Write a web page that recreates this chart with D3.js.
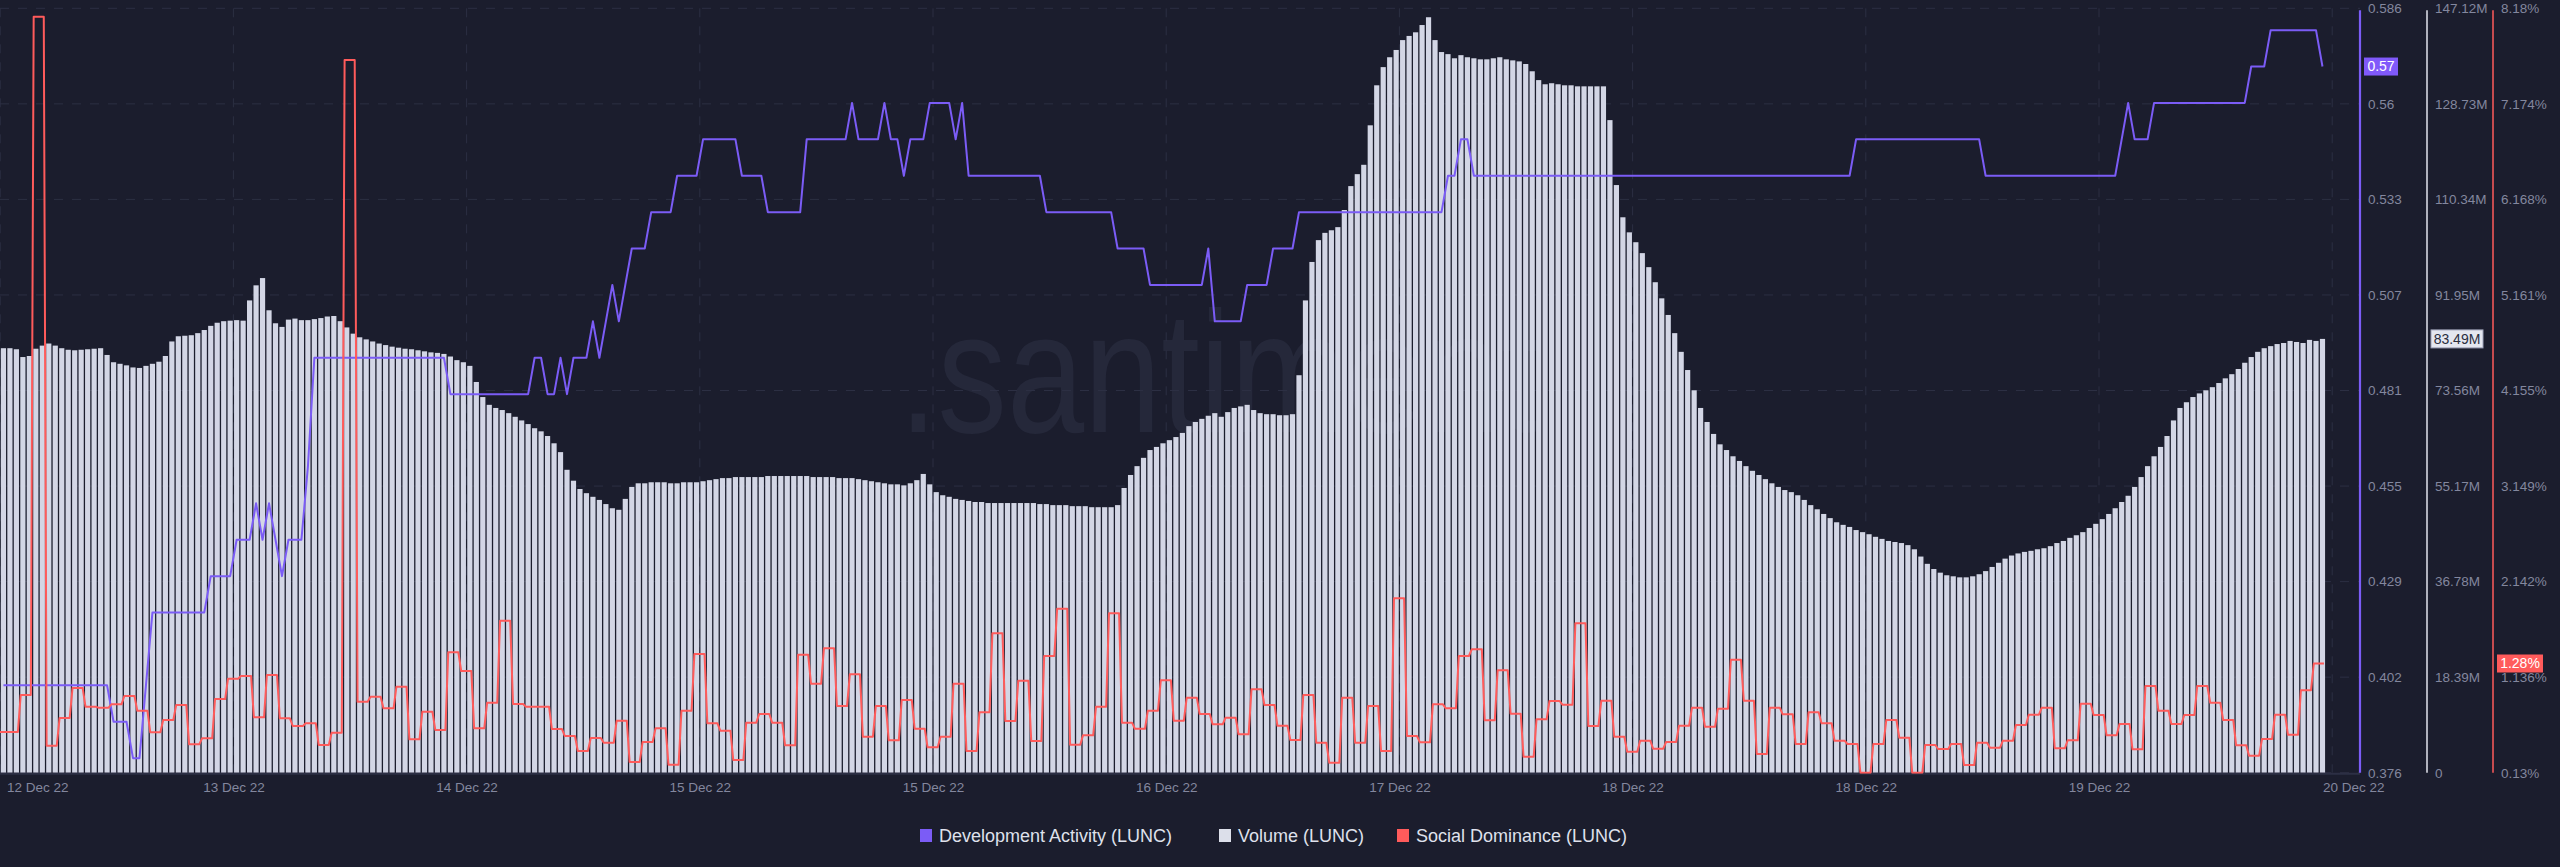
<!DOCTYPE html>
<html><head><meta charset="utf-8">
<script src="https://cdn.jsdelivr.net/npm/d3@7"></script>
<style>
html,body{margin:0;padding:0;background:#1b1d2d;overflow:hidden;}
svg{display:block;}
text{font-family:"Liberation Sans",Arial,sans-serif;}
</style></head><body>
<svg id="chart" width="2560" height="867"></svg>
<script>
// ---------------- DATA ----------------
const HOUR = 3600e3;
const xTickStart = "2022-12-12T18:00:00Z";
const xTickStepHours = 18;
const xTickLabels = ["12 Dec 22","13 Dec 22","14 Dec 22","15 Dec 22","15 Dec 22","16 Dec 22","17 Dec 22","18 Dec 22","18 Dec 22","19 Dec 22","20 Dec 22"];

// Volume (LUNC), millions, 30-minute bars
const volumeStart = "2022-12-12T18:15:00Z";
const volume = [
81.7,81.7,81.5,80.0,80.2,81.6,82.2,82.6,82.2,81.7,
81.4,81.3,81.4,81.5,81.6,81.7,80.4,79.0,78.7,78.4,
78.0,77.9,78.3,78.7,79.1,80.2,83.0,84.0,84.1,84.2,
84.6,85.2,86.0,86.6,86.9,87.0,87.1,87.0,90.9,93.8,
95.2,89.0,86.5,85.8,87.2,87.4,87.1,87.1,87.3,87.5,
87.8,87.9,86.9,85.7,84.5,83.8,83.4,83.0,82.6,82.3,
82.0,81.8,81.6,81.5,81.3,81.1,80.9,80.8,80.6,80.1,
79.4,79.0,78.3,75.2,72.3,70.8,70.2,69.8,69.2,68.5,
67.8,67.1,66.3,65.7,64.8,63.4,61.7,58.3,56.2,54.6,
53.8,53.1,52.5,51.7,50.9,50.6,52.7,55.0,55.7,55.7,
55.9,55.9,55.9,55.7,55.7,55.9,55.9,55.9,56.1,56.3,
56.5,56.7,56.7,56.9,56.9,56.9,56.9,56.9,57.1,57.1,
57.1,57.1,57.1,57.1,57.1,56.9,56.9,56.9,56.9,56.7,
56.7,56.7,56.5,56.3,56.1,55.9,55.7,55.5,55.5,55.3,
55.7,56.3,57.5,55.5,54.0,53.4,53.1,52.7,52.5,52.3,
52.1,52.1,51.9,51.9,51.9,51.9,51.9,51.9,51.9,51.9,
51.7,51.7,51.5,51.5,51.5,51.3,51.3,51.3,51.1,51.1,
51.1,51.1,51.5,54.8,57.3,59.0,60.6,62.1,62.7,63.4,
64.0,64.6,65.4,66.7,67.5,68.1,68.7,69.2,68.5,69.4,
70.2,70.5,70.8,69.8,69.2,69.0,69.0,68.8,68.8,69.0,
76.5,90.9,98.3,102.5,103.9,104.4,105.0,108.3,112.9,115.2,
117.0,124.6,132.3,135.8,137.7,139.1,141.0,141.8,142.5,143.9,
145.4,141.0,138.7,138.3,137.5,138.1,137.7,137.5,137.3,137.3,
137.5,137.7,137.3,137.1,136.9,136.4,135.0,133.3,132.5,132.7,
132.5,132.3,132.3,132.1,132.1,132.1,132.1,132.1,125.6,113.1,
106.9,104.0,102.1,100.0,97.3,94.4,91.3,88.1,84.6,81.0,
77.5,73.6,70.2,67.5,65.2,63.2,62.1,60.9,60.0,59.0,
58.1,57.3,56.5,55.7,55.0,54.4,54.0,53.4,52.5,51.5,
50.7,49.8,49.0,48.2,47.7,47.3,46.7,46.3,45.9,45.4,
45.0,44.6,44.4,44.2,43.8,43.0,41.6,40.2,39.2,38.5,
38.0,37.8,37.6,37.6,37.8,38.2,38.8,39.6,40.4,41.2,
41.8,42.2,42.5,42.7,43.0,43.2,43.6,44.2,44.6,45.2,
45.7,46.3,47.1,47.9,48.8,49.8,50.9,52.1,53.3,55.0,
56.9,59.0,60.9,62.7,64.8,67.8,70.2,71.3,72.3,73.0,
73.6,74.2,75.0,75.9,76.7,77.7,78.9,80.0,81.0,81.7,
82.1,82.5,82.7,83.1,82.9,82.7,83.3,83.1,83.49
];

// Development Activity (LUNC), 30-minute points
const devStart = "2022-12-12T18:15:00Z";
const devActivity = [
0.40,0.40,0.40,0.40,0.40,0.40,0.40,0.40,0.40,0.40,0.40,0.40,0.40,0.40,0.40,0.40,0.40,
0.39,0.39,0.39,0.38,0.38,0.40,
0.42,0.42,0.42,0.42,0.42,0.42,0.42,0.42,0.42,
0.43,0.43,0.43,0.43,0.44,0.44,0.44,
0.45,0.44,0.45,0.44,0.43,0.44,0.44,0.44,0.46,
0.49,0.49,0.49,0.49,0.49,0.49,0.49,0.49,0.49,0.49,0.49,0.49,0.49,0.49,0.49,0.49,0.49,0.49,0.49,0.49,0.49,
0.48,0.48,0.48,0.48,0.48,0.48,0.48,0.48,0.48,0.48,0.48,0.48,0.48,
0.49,0.49,0.48,0.48,0.49,0.48,0.49,0.49,0.49,0.50,0.49,0.50,0.51,0.50,0.51,0.52,0.52,0.52,
0.53,0.53,0.53,0.53,0.54,0.54,0.54,0.54,
0.55,0.55,0.55,0.55,0.55,0.55,0.54,0.54,0.54,0.54,
0.53,0.53,0.53,0.53,0.53,0.53,
0.55,0.55,0.55,0.55,0.55,0.55,0.55,
0.56,0.55,0.55,0.55,0.55,0.56,0.55,0.55,0.54,0.55,0.55,0.55,0.56,0.56,0.56,0.56,0.55,0.56,
0.54,0.54,0.54,0.54,0.54,0.54,0.54,0.54,0.54,0.54,0.54,0.54,
0.53,0.53,0.53,0.53,0.53,0.53,0.53,0.53,0.53,0.53,0.53,
0.52,0.52,0.52,0.52,0.52,
0.51,0.51,0.51,0.51,0.51,0.51,0.51,0.51,0.51,0.52,
0.50,0.50,0.50,0.50,0.50,0.51,0.51,0.51,0.51,0.52,0.52,0.52,0.52,
0.53,0.53,0.53,0.53,0.53,0.53,0.53,0.53,0.53,0.53,0.53,0.53,0.53,0.53,0.53,0.53,0.53,0.53,0.53,0.53,0.53,0.53,0.53,
0.54,0.54,0.55,0.55,
0.54,0.54,0.54,0.54,0.54,0.54,0.54,0.54,0.54,0.54,0.54,0.54,0.54,0.54,0.54,0.54,0.54,0.54,0.54,0.54,
0.54,0.54,0.54,0.54,0.54,0.54,0.54,0.54,0.54,0.54,0.54,0.54,0.54,0.54,0.54,0.54,0.54,0.54,0.54,0.54,
0.54,0.54,0.54,0.54,0.54,0.54,0.54,0.54,0.54,0.54,0.54,0.54,0.54,0.54,0.54,0.54,0.54,0.54,0.54,
0.55,0.55,0.55,0.55,0.55,0.55,0.55,0.55,0.55,0.55,0.55,0.55,0.55,0.55,0.55,0.55,0.55,0.55,0.55,0.55,
0.54,0.54,0.54,0.54,0.54,0.54,0.54,0.54,0.54,0.54,0.54,0.54,0.54,0.54,0.54,0.54,0.54,0.54,0.54,0.54,0.54,
0.55,0.56,0.55,0.55,0.55,
0.56,0.56,0.56,0.56,0.56,0.56,0.56,0.56,0.56,0.56,0.56,0.56,0.56,0.56,0.56,
0.57,0.57,0.57,0.58,0.58,0.58,0.58,0.58,0.58,0.58,0.58,0.57
];

// Social Dominance (LUNC), %, hourly
const socialStart = "2022-12-12T17:35:00Z";
const socialDominance = [
0.559,0.559,0.949,8.09,0.414,0.706,1.022,0.825,0.815,0.85,
0.938,0.783,0.555,0.685,0.843,0.429,0.492,0.906,1.12,1.148,
0.713,1.159,0.703,0.622,0.65,0.422,0.551,7.635,0.878,0.93,
0.808,1.036,0.481,0.772,0.58,1.398,1.201,0.597,0.867,1.731,
0.853,0.825,0.825,0.59,0.516,0.358,0.495,0.446,0.678,0.243,
0.453,0.597,0.214,0.783,1.38,0.65,0.572,0.264,0.657,0.748,
0.657,0.418,1.373,1.067,1.44,0.832,1.166,0.509,0.832,0.471,
0.896,0.593,0.397,0.509,1.067,0.358,0.766,1.598,0.674,1.099,
0.464,1.359,1.857,0.425,0.524,0.825,1.809,0.657,0.593,0.783,
1.103,0.678,0.92,0.748,0.64,0.709,0.534,1.008,0.843,0.625,
0.474,0.948,0.446,0.235,0.92,0.446,0.832,0.358,1.966,0.516,
0.45,0.85,0.808,1.359,1.429,0.682,1.208,0.751,0.298,0.692,
0.885,0.846,1.703,0.622,0.888,0.509,0.351,0.467,0.383,0.453,
0.625,0.815,0.614,0.804,1.32,0.888,0.327,0.815,0.745,0.432,
0.766,0.65,0.467,0.432,0.13,0.432,0.685,0.499,0.13,0.422,
0.38,0.432,0.211,0.446,0.393,0.467,0.632,0.741,0.815,0.387,
0.471,0.857,0.738,0.524,0.643,0.376,1.043,0.783,0.643,0.738,
1.043,0.867,0.685,0.418,0.309,0.485,0.741,0.53,0.999,1.28
];

const devDomain = [0.376, 0.586];
const volDomain = [0, 147.12];
const socDomain = [0.13, 8.18];
const devTickLabels = ["0.376","0.402","0.429","0.455","0.481","0.507","0.533","0.56","0.586"];
const volTickLabels = ["0","18.39M","36.78M","55.17M","73.56M","91.95M","110.34M","128.73M","147.12M"];
const socTickLabels = ["0.13%","1.136%","2.142%","3.149%","4.155%","5.161%","6.168%","7.174%","8.18%"];
const lastDevLabel = "0.57";
const lastVolLabel = "83.49M";
const lastSocLabel = "1.28%";
const legendLabels = ["Development Activity (LUNC)","Volume (LUNC)","Social Dominance (LUNC)"];
const watermark = ".santiment";

// ---------------- STYLE / LAYOUT ----------------
const C = {bg:"#1b1d2d", grid:"#2c2f43", dev:"#7b5cf6", vol:"#d3d6e5", soc:"#ff5b5b", tick:"#83879e", legend:"#dfe1ec"};
const P = {left:0, right:2360, top:8.3, bottom:772.7};
const pxPerHour = 233.2/18;

const svg = d3.select("#chart");
svg.append("rect").attr("width",2560).attr("height",867).attr("fill",C.bg);

const T0 = Date.parse(xTickStart);
const x = d3.scaleUtc()
  .domain([new Date(T0 - 0.2/pxPerHour*HOUR), new Date(T0 + (P.right-0.2)/pxPerHour*HOUR)])
  .range([P.left, P.right]);
const yDev = d3.scaleLinear().domain(devDomain).range([P.bottom, P.top]);
const yVol = d3.scaleLinear().domain(volDomain).range([P.bottom, P.top]);
const ySoc = d3.scaleLinear().domain(socDomain).range([P.bottom, P.top]);

const nTicks = devTickLabels.length;
const devTickVals = devTickLabels.map((_,i)=>devDomain[0]+(devDomain[1]-devDomain[0])*i/(nTicks-1));
const volTickVals = volTickLabels.map((_,i)=>volDomain[0]+(volDomain[1]-volDomain[0])*i/(nTicks-1));
const socTickVals = socTickLabels.map((_,i)=>socDomain[0]+(socDomain[1]-socDomain[0])*i/(nTicks-1));
const xTickVals = xTickLabels.map((_,i)=>new Date(T0 + i*xTickStepHours*HOUR));

svg.append("defs").append("clipPath").attr("id","plotclip")
  .append("rect").attr("x",P.left).attr("y",0).attr("width",P.right-P.left).attr("height",P.bottom+1);

// watermark
svg.append("text").attr("x",899).attr("y",432)
  .attr("font-family","'Open Sans','Noto Sans',sans-serif").attr("font-size",172)
  .attr("textLength",640).attr("lengthAdjust","spacingAndGlyphs")
  .attr("fill","#25283a").text(watermark);

// grid
const grid = svg.append("g");
grid.selectAll("line.h").data(devTickVals).join("line")
  .attr("x1",P.left).attr("x2",P.right).attr("y1",d=>yDev(d)).attr("y2",d=>yDev(d))
  .attr("stroke",C.grid).attr("stroke-width",1).attr("stroke-dasharray","9,9");
grid.selectAll("line.v").data(xTickVals).join("line")
  .attr("x1",d=>x(d)).attr("x2",d=>x(d)).attr("y1",P.top).attr("y2",P.bottom)
  .attr("stroke",C.grid).attr("stroke-width",1).attr("stroke-dasharray","9,9");

// volume bars
const v0 = Date.parse(volumeStart);
const volT = i => new Date(v0 + i*0.5*HOUR);
const pitch = x(volT(1)) - x(volT(0));
const bw = pitch*0.8;
svg.append("g").attr("clip-path","url(#plotclip)")
  .selectAll("rect").data(volume).join("rect")
  .attr("x",(d,i)=>x(volT(i))-bw/2).attr("width",bw)
  .attr("y",d=>yVol(d)).attr("height",d=>yVol(0)-yVol(d))
  .attr("fill",C.vol);

// baseline
svg.append("line").attr("x1",P.left).attr("x2",P.right).attr("y1",P.bottom+1).attr("y2",P.bottom+1)
  .attr("stroke","#2c2f44").attr("stroke-width",2);

// dev activity line
const d0 = Date.parse(devStart);
const devLine = d3.line().x((d,i)=>x(new Date(d0 + i*0.5*HOUR))).y(d=>yDev(d)).curve(d3.curveLinear);
svg.append("path").attr("clip-path","url(#plotclip)").datum(devActivity).attr("d",devLine)
  .attr("fill","none").attr("stroke",C.dev).attr("stroke-width",2).attr("stroke-linejoin","round");

// social dominance line (hourly plateaus)
const s0 = Date.parse(socialStart);
const socPts = socialDominance.flatMap((v,i)=>[[s0+i*HOUR, v],[s0+(i+0.78)*HOUR, v]]);
const socLine = d3.line().x(d=>x(new Date(d[0]))).y(d=>ySoc(d[1]));
svg.append("path").attr("clip-path","url(#plotclip)").datum(socPts).attr("d",socLine)
  .attr("fill","none").attr("stroke",C.soc).attr("stroke-width",2).attr("stroke-linejoin","round");

// right axes
function rightAxis(scale, vals, labels, ax, color, lw){
  const g = svg.append("g").attr("transform",`translate(${ax},0)`);
  g.call(d3.axisRight(scale).tickValues(vals).tickFormat((d,i)=>labels[i]).tickSize(0).tickPadding(8));
  g.select(".domain").remove();
  g.selectAll("text").attr("fill",C.tick).attr("font-size",13.5).attr("font-family","'Liberation Sans',Arial,sans-serif");
  svg.append("line").attr("x1",ax).attr("x2",ax).attr("y1",P.top+2).attr("y2",P.bottom)
    .attr("stroke",color).attr("stroke-width",lw);
}
rightAxis(yDev, devTickVals, devTickLabels, 2360, C.dev, 2.2);
rightAxis(yVol, volTickVals, volTickLabels, 2427, "#e3e5ee", 1.5);
rightAxis(ySoc, socTickVals, socTickLabels, 2493, C.soc, 1.5);

// last value badges
function badge(xl, yc, w, txt, fill, tc, stroke){
  const g = svg.append("g");
  g.append("rect").attr("x",xl).attr("y",yc-9).attr("width",w).attr("height",18).attr("fill",fill)
    .attr("stroke",stroke||"none").attr("stroke-width",1);
  g.append("text").attr("x",xl+w/2).attr("y",yc).attr("dy","0.35em").attr("text-anchor","middle")
    .attr("fill",tc).attr("font-size",14).text(txt);
}
badge(2364, yDev(devActivity[devActivity.length-1]), 34, lastDevLabel, "#8059fa", "#ffffff");
badge(2431, yVol(volume[volume.length-1]), 52, lastVolLabel, "#e4e6ef", "#2a2d3e", "#9ea2b8");
badge(2497, ySoc(socialDominance[socialDominance.length-1]), 46, lastSocLabel, "#ff5b5b", "#ffffff");

// x axis labels
const xg = svg.append("g").attr("transform",`translate(0,${P.bottom})`);
xg.call(d3.axisBottom(x).tickValues(xTickVals).tickFormat((d,i)=>xTickLabels[i]).tickSize(0).tickPadding(10));
xg.select(".domain").remove();
xg.selectAll("text").attr("fill",C.tick).attr("font-size",13.5).attr("font-family","'Liberation Sans',Arial,sans-serif");
xg.selectAll(".tick").each(function(d,i){
  const t = d3.select(this).select("text");
  if(i===0){ t.attr("text-anchor","start").attr("x",6.5 - x(d)); }
  if(i===xTickLabels.length-1){ t.attr("x",21); }
});

// legend
const legendColors = [C.dev, "#dcdfea", C.soc];
const legendX = [920, 1219, 1397];
const lg = svg.append("g");
legendLabels.forEach((lab,i)=>{
  lg.append("rect").attr("x",legendX[i]).attr("y",829).attr("width",12).attr("height",13).attr("fill",legendColors[i]);
  lg.append("text").attr("x",legendX[i]+19).attr("y",835.5).attr("dy","0.35em")
    .attr("fill",C.legend).attr("font-size",18).text(lab);
});
</script>
</body></html>
